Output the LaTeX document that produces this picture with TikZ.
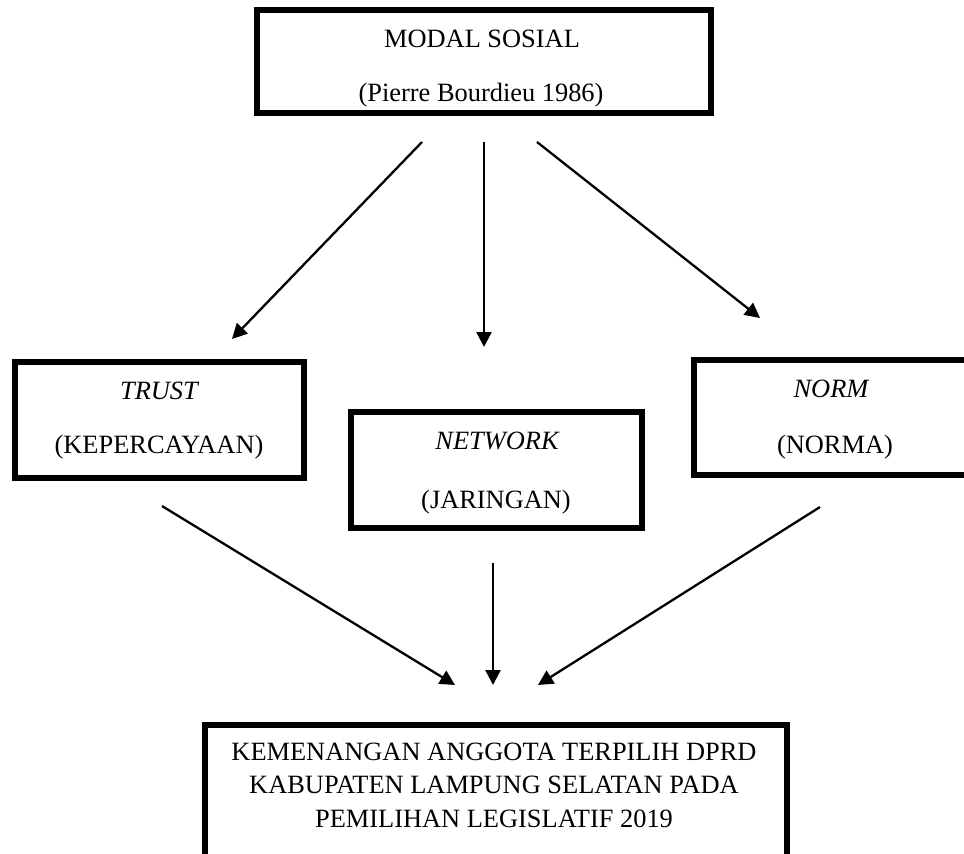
\documentclass[tikz,border=0pt]{standalone}
\usepackage{fontspec}
\setmainfont{Liberation Serif}
\usetikzlibrary{arrows.meta}
\tikzset{
  boxshape/.style={draw=black, line width=6.5pt, rectangle, inner sep=0pt, outer sep=0pt},
  label/.style={anchor=base, inner sep=0pt, font=\fontsize{26.4}{30}\selectfont},
  conn/.style={line width=2.3pt, -{Triangle[length=15pt,width=15pt]}}
}
\begin{document}
\begin{tikzpicture}[x=1pt,y=-1pt]
\useasboundingbox (0,0) rectangle (964,854);
% texts
\node[label] (t1) at (482,47) {MODAL SOSIAL};
\begin{scope}
\clip (250,0) rectangle (720,107);
\node[label] (t2) at (481,101) {(Pierre Bourdieu 1986)};
\end{scope}
\node[label] (tr1) at (159,399) {\itshape TRUST};
\node[label] (tr2) at (159,453) {(KEPERCAYAAN)};
\node[label] (nw1) at (497,449) {\itshape NETWORK};
\node[label] (nw2) at (496,508) {(JARINGAN)};
\node[label] (nm1) at (831,397) {\itshape NORM};
\node[label] (nm2) at (835,453) {(NORMA)};
\node[label] (k1) at (494,760) {KEMENANGAN ANGGOTA TERPILIH DPRD};
\node[label] (k2) at (494,793) {KABUPATEN LAMPUNG SELATAN PADA};
\node[label] (k3) at (494,827) {PEMILIHAN LEGISLATIF 2019};
% boxes
\node[boxshape, minimum width=454pt, minimum height=103pt] (top) at (484,61.5) {};
\node[boxshape, minimum width=289pt, minimum height=116pt] (trust) at (159.5,420) {};
\node[boxshape, minimum width=291pt, minimum height=116pt] (network) at (496.5,470) {};
\node[boxshape, minimum width=286pt, minimum height=115pt] (norm) at (837,417.5) {};
\node[boxshape, minimum width=582pt, minimum height=175pt] (result) at (496,812.5) {};
% connector ends
\coordinate (a1s) at (422,142); \coordinate (a1e) at (232,339);
\coordinate (a2s) at (484,142); \coordinate (a2e) at (484,347);
\coordinate (a3s) at (537,142); \coordinate (a3e) at (760,318);
\coordinate (b1s) at (162,506); \coordinate (b1e) at (455,685);
\coordinate (b2s) at (493,563); \coordinate (b2e) at (493,685);
\coordinate (b3s) at (820,507); \coordinate (b3e) at (538,685);
\draw[conn] (a1s) -- (a1e);
\draw[conn] (a2s) -- (a2e);
\draw[conn] (a3s) -- (a3e);
\draw[conn] (b1s) -- (b1e);
\draw[conn] (b2s) -- (b2e);
\draw[conn] (b3s) -- (b3e);
\end{tikzpicture}
\end{document}
